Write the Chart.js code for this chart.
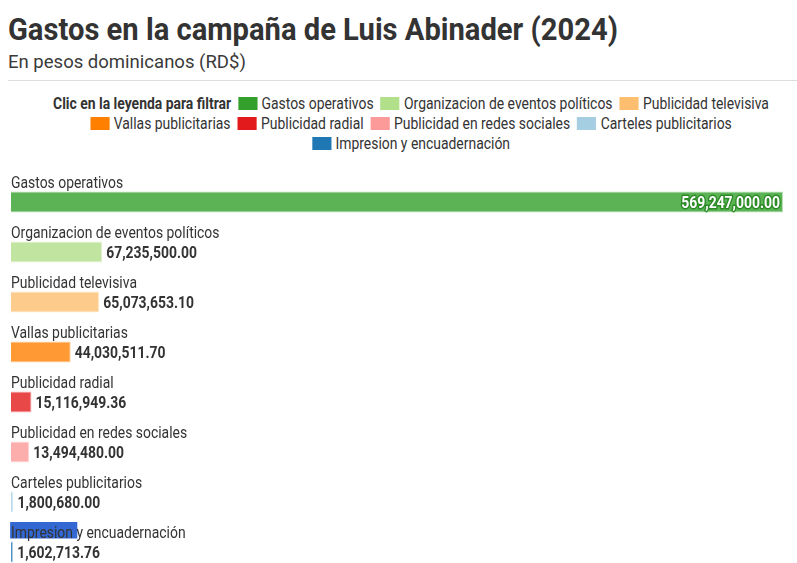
<!DOCTYPE html>
<html>
<head>
<meta charset="utf-8">
<script src="https://cdn.jsdelivr.net/npm/chart.js@4.4.1/dist/chart.umd.min.js"></script>
<style>
  html, body { margin: 0; padding: 0; background: #fff; overflow: hidden; }
  body { width: 797px; height: 563px; position: relative; font-family: Roboto, sans-serif; color: #333; }
  #title { position: absolute; left: 8px; top: 12.6px; font-size: 32px; line-height: 32px; font-weight: 700; white-space: nowrap; transform-origin: 0 0; transform: scaleX(0.911); }
  #subtitle { position: absolute; left: 8px; top: 51.5px; font-size: 19px; line-height: 19px; white-space: nowrap; color: #3a3a3a; transform-origin: 0 0; transform: scaleX(0.975); }
  #head { position: absolute; left: 0; top: 0; transform-origin: 0 0; }
  #legend { position: absolute; top: 93.5px; display: flex; flex-wrap: wrap; justify-content: center; font-size: 16px; line-height: 20px; }
  #legend .it { display: flex; align-items: center; margin: 0 4px; white-space: nowrap; }
  #legend .lead { font-weight: 700; margin-right: 4px; }
  #legend .box { width: 22px; height: 13px; margin-right: 5px; }
  #rule { position: absolute; left: 8px; right: 0; top: 80px; height: 1px; background: #ddd; }
  #wrap { position: absolute; left: 0; top: 160px; width: 797px; height: 420px; }
</style>
</head>
<body>
<div id="title">Gastos en la campaña de Luis Abinader (2024)</div>
<div id="subtitle">En pesos dominicanos (RD$)</div>
<div id="rule"></div>
<div id="head"><div id="legend"></div></div>
<div id="wrap"><canvas id="gastos"></canvas></div>
<script>
var categorias = [
    'Gastos operativos',
    'Organizacion de eventos políticos',
    'Publicidad televisiva',
    'Vallas publicitarias',
    'Publicidad radial',
    'Publicidad en redes sociales',
    'Carteles publicitarios',
    'Impresion y encuadernación'
];
var montos = [569247000.00, 67235500.00, 65073653.10, 44030511.70, 15116949.36, 13494480.00, 1800680.00, 1602713.76];
var colores = ['#33a02c', '#b2df8a', '#fdbf6f', '#ff7f00', '#e31a1c', '#fb9a99', '#a6cee3', '#1f78b4'];

var SX = 0.87; // condensed look

function alpha(hex, a) {
    var n = parseInt(hex.slice(1), 16);
    return 'rgba(' + (n >> 16) + ',' + ((n >> 8) & 255) + ',' + (n & 255) + ',' + a + ')';
}
function fmt(v) {
    return v.toLocaleString('en-US', {minimumFractionDigits: 2, maximumFractionDigits: 2});
}

// html legend
var head = document.getElementById('head');
head.style.width = (797 / SX) + 'px';
head.style.transform = 'scaleX(' + SX + ')';
var leg = document.getElementById('legend');
leg.style.left = (21 / SX) + 'px';
leg.style.width = (780 / SX) + 'px';
var lead = document.createElement('div');
lead.className = 'it lead';
lead.textContent = 'Clic en la leyenda para filtrar';
leg.appendChild(lead);
categorias.forEach(function(c, i){
    var it = document.createElement('div');
    it.className = 'it';
    it.innerHTML = '<span class="box" style="background:' + colores[i] + '"></span>' + c;
    leg.appendChild(it);
});

var barLabels = {
    id: 'barLabels',
    afterDatasetsDraw: function(chart) {
        var ctx = chart.ctx;
        var meta = chart.getDatasetMeta(0);
        var left = chart.chartArea.left;
        meta.data.forEach(function(bar, i){
            var y = bar.y;
            // category name above the bar
            ctx.save();
            ctx.font = '16px Roboto';
            ctx.textBaseline = 'alphabetic';
            ctx.translate(left, y - 14);
            ctx.scale(SX, 1);
            if (i === categorias.length - 1) {
                var w = ctx.measureText('Impresion ').width;
                ctx.fillStyle = '#3367d1';
                ctx.fillRect(-1, -16, w + 2, 16.5);
            }
            ctx.fillStyle = '#333';
            ctx.fillText(categorias[i], 0, 0);
            ctx.restore();

            // value
            ctx.save();
            ctx.font = 'bold 16px Roboto';
            ctx.textBaseline = 'alphabetic';
            var txt = fmt(montos[i]);
            var tw = ctx.measureText(txt).width * SX;
            if (bar.x + 4 + tw > chart.chartArea.right) {
                ctx.translate(bar.x - 3, y + 5.5);
                ctx.scale(SX, 1);
                ctx.textAlign = 'right';
                ctx.lineJoin = 'round';
                ctx.lineWidth = 3;
                ctx.strokeStyle = '#2a8a24';
                ctx.strokeText(txt, 0, 0);
                ctx.fillStyle = '#fff';
                ctx.fillText(txt, 0, 0);
            } else {
                ctx.translate(bar.x + 4, y + 5.5);
                ctx.scale(SX, 1);
                ctx.fillStyle = '#333';
                ctx.fillText(txt, 0, 0);
            }
            ctx.restore();
        });
    }
};

var ctx = document.getElementById('gastos').getContext('2d');
var myChart = new Chart(ctx, {
    type: 'bar',
    data: {
        labels: categorias,
        datasets: [{
            data: montos,
            backgroundColor: colores.map(function(c){ return alpha(c, 0.8); }),
            borderColor: colores.map(function(c){ return alpha(c, 0.35); }),
            borderWidth: 1,
            barPercentage: 0.42,
            categoryPercentage: 1
        }]
    },
    options: {
        indexAxis: 'y',
        responsive: true,
        maintainAspectRatio: false,
        animation: false,
        layout: { padding: { top: 17, bottom: 3, left: 11, right: 14 } },
        scales: {
            x: { display: false, min: 0, max: Math.max.apply(null, montos) },
            y: { display: false }
        },
        plugins: {
            legend: { display: false },
            tooltip: { enabled: false }
        }
    },
    plugins: [barLabels]
});
</script>
</body>
</html>
